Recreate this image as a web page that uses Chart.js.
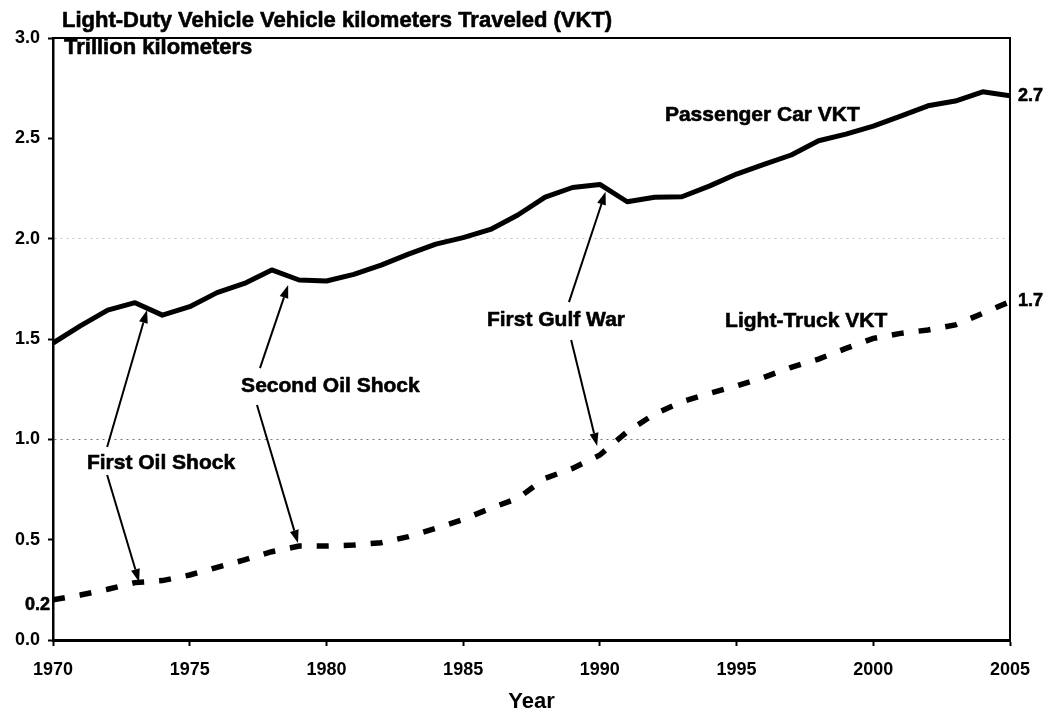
<!DOCTYPE html>
<html>
<head>
<meta charset="utf-8">
<script src="https://cdn.jsdelivr.net/npm/chart.js@4.4.1/dist/chart.umd.min.js"></script>
<style>
html,body{margin:0;padding:0;background:#fff;}
#wrap{width:1049px;height:713px;}
</style>
</head>
<body>
<div id="wrap"><canvas id="c" width="1049" height="713"></canvas></div>
<script>
const years = [1970,1971,1972,1973,1974,1975,1976,1977,1978,1979,1980,1981,1982,1983,1984,1985,1986,1987,1988,1989,1990,1991,1992,1993,1994,1995,1996,1997,1998,1999,2000,2001,2002,2003,2004,2005];
const passengerCar = [1.48,1.565,1.644,1.681,1.619,1.661,1.731,1.777,1.844,1.794,1.789,1.822,1.868,1.923,1.973,2.005,2.046,2.118,2.207,2.255,2.27,2.184,2.206,2.209,2.262,2.322,2.37,2.417,2.488,2.521,2.561,2.611,2.662,2.686,2.732,2.712];
const lightTruck = [0.20,0.224,0.253,0.286,0.296,0.324,0.362,0.399,0.44,0.468,0.468,0.473,0.485,0.515,0.556,0.601,0.656,0.706,0.806,0.855,0.922,1.038,1.126,1.187,1.229,1.266,1.309,1.359,1.40,1.453,1.503,1.528,1.545,1.57,1.628,1.686];
const xTickYears = [1970,1975,1980,1985,1990,1995,2000,2005];

const titleLine1 = 'Light-Duty Vehicle Vehicle kilometers Traveled (VKT)';
const titleLine2 = 'Trillion kilometers';
const xAxisTitle = 'Year';

const annotationLabels = ['Passenger Car VKT','Light-Truck VKT','First Gulf War','Second Oil Shock','First Oil Shock'];
const labelYears  = [1992.38,1994.58,1985.87,1976.88,1971.24];
const labelValues = [2.586,1.560,1.565,1.236,0.852];

const arrowFromYear  = [1971.98,1971.98,1977.57,1977.46,1988.87,1988.95];
const arrowFromValue = [0.962,0.822,1.355,1.171,1.684,1.495];
const arrowToYear    = [1973.44,1973.15,1978.60,1978.96,1990.21,1989.90];
const arrowToValue   = [1.644,0.289,1.769,0.483,2.234,0.967];

const FONT = '"Liberation Sans", Arial, Helvetica, sans-serif';

function heavyText(ctx, txt, px, py) {
  ctx.fillText(txt, px, py);
  ctx.strokeText(txt, px, py);
}

const decorPlugin = {
  id: 'decor',
  afterDatasetsDraw(chart) {
    const {ctx, chartArea: a, scales: {x, y}} = chart;
    ctx.save();
    // top and right frame
    ctx.strokeStyle = '#000';
    ctx.lineWidth = 2;
    ctx.beginPath();
    ctx.moveTo(a.left, a.top);
    ctx.lineTo(a.right, a.top);
    ctx.lineTo(a.right, a.bottom);
    ctx.stroke();

    // arrows
    ctx.lineWidth = 2;
    ctx.fillStyle = '#000';
    for (let i = 0; i < arrowFromYear.length; i++) {
      const x1 = x.getPixelForValue(arrowFromYear[i]);
      const y1 = y.getPixelForValue(arrowFromValue[i]);
      const x2 = x.getPixelForValue(arrowToYear[i]);
      const y2 = y.getPixelForValue(arrowToValue[i]);
      const ang = Math.atan2(y2 - y1, x2 - x1);
      const hl = 13, hw = 4.5;
      const bx = x2 - hl * Math.cos(ang), by = y2 - hl * Math.sin(ang);
      ctx.beginPath();
      ctx.moveTo(x1, y1);
      ctx.lineTo(bx, by);
      ctx.stroke();
      ctx.beginPath();
      ctx.moveTo(x2, y2);
      ctx.lineTo(bx + hw * Math.sin(ang), by - hw * Math.cos(ang));
      ctx.lineTo(bx - hw * Math.sin(ang), by + hw * Math.cos(ang));
      ctx.closePath();
      ctx.fill();
    }

    // annotation labels
    ctx.fillStyle = '#000';
    ctx.lineWidth = 0.6;
    ctx.lineJoin = 'round';
    ctx.font = 'bold 21px ' + FONT;
    ctx.textAlign = 'left';
    ctx.textBaseline = 'alphabetic';
    for (let i = 0; i < annotationLabels.length; i++) {
      heavyText(ctx, annotationLabels[i], x.getPixelForValue(labelYears[i]), y.getPixelForValue(labelValues[i]));
    }

    // end value labels
    ctx.font = 'bold 18px ' + FONT;
    ctx.textBaseline = 'middle';
    const lastP = passengerCar[passengerCar.length - 1];
    const lastT = lightTruck[lightTruck.length - 1];
    heavyText(ctx, lastP.toFixed(1), a.right + 8, y.getPixelForValue(lastP));
    heavyText(ctx, lastT.toFixed(1), a.right + 8, y.getPixelForValue(lastT) - 1);
    ctx.textAlign = 'right';
    heavyText(ctx, lightTruck[0].toFixed(1), a.left - 3, y.getPixelForValue(lightTruck[0]) + 5);

    // title
    ctx.font = 'bold 22px ' + FONT;
    ctx.textAlign = 'left';
    ctx.textBaseline = 'alphabetic';
    heavyText(ctx, titleLine1, 62, 27);
    heavyText(ctx, titleLine2, 64, 54);
    ctx.restore();
  }
};

new Chart(document.getElementById('c'), {
  type: 'line',
  data: {
    datasets: [
      {
        label: 'Passenger Car VKT',
        data: years.map((yr, i) => ({x: yr, y: passengerCar[i]})),
        borderColor: '#000',
        borderWidth: 5,
        pointRadius: 0,
        tension: 0,
        fill: false,
        borderJoinStyle: 'round'
      },
      {
        label: 'Light-Truck VKT',
        data: years.map((yr, i) => ({x: yr, y: lightTruck[i]})),
        borderColor: '#000',
        borderWidth: 5.5,
        borderDash: [12, 15],
        borderCapStyle: 'butt',
        pointRadius: 0,
        tension: 0,
        fill: false
      }
    ]
  },
  options: {
    responsive: false,
    devicePixelRatio: 1,
    animation: false,
    layout: {padding: {left: 0, right: 39, top: 38, bottom: 0}},
    plugins: {legend: {display: false}, tooltip: {enabled: false}, title: {display: false}},
    scales: {
      x: {
        type: 'linear',
        min: 1970,
        max: 2005,
        afterBuildTicks: (s) => { s.ticks = xTickYears.map(v => ({value: v})); },
        afterFit: (s) => { s.height = 73; },
        ticks: {
          autoSkip: false,
          maxRotation: 0,
          padding: 13,
          color: '#000',
          font: {family: FONT, size: 18, weight: 'bold'},
          callback: (v) => String(v)
        },
        grid: {drawOnChartArea: false, tickColor: '#000', tickLength: 6, tickWidth: 2},
        border: {display: true, color: '#000', width: 3},
        title: {display: true, text: xAxisTitle, color: '#000', padding: 0,
                font: {family: FONT, size: 22, weight: 'bold', lineHeight: 1}}
      },
      y: {
        min: 0,
        max: 3,
        afterFit: (s) => { s.width = 53; },
        ticks: {
          stepSize: 0.5,
          padding: 8,
          color: '#000',
          font: {family: FONT, size: 18, weight: 'bold'},
          callback: (v) => Number(v).toFixed(1)
        },
        grid: {
          drawOnChartArea: true,
          color: (c) => {
            const v = c.tick ? c.tick.value : null;
            if (v === 1) return '#777';
            if (v === 2) return '#c4c4c4';
            return 'rgba(0,0,0,0)';
          },
          lineWidth: 1,
          tickColor: '#000',
          tickLength: 5,
          tickWidth: 2,
          tickBorderDash: []
        },
        border: {display: true, color: '#000', width: 2.5, dash: [2, 4]}
      }
    }
  },
  plugins: [decorPlugin]
});
</script>
</body>
</html>
